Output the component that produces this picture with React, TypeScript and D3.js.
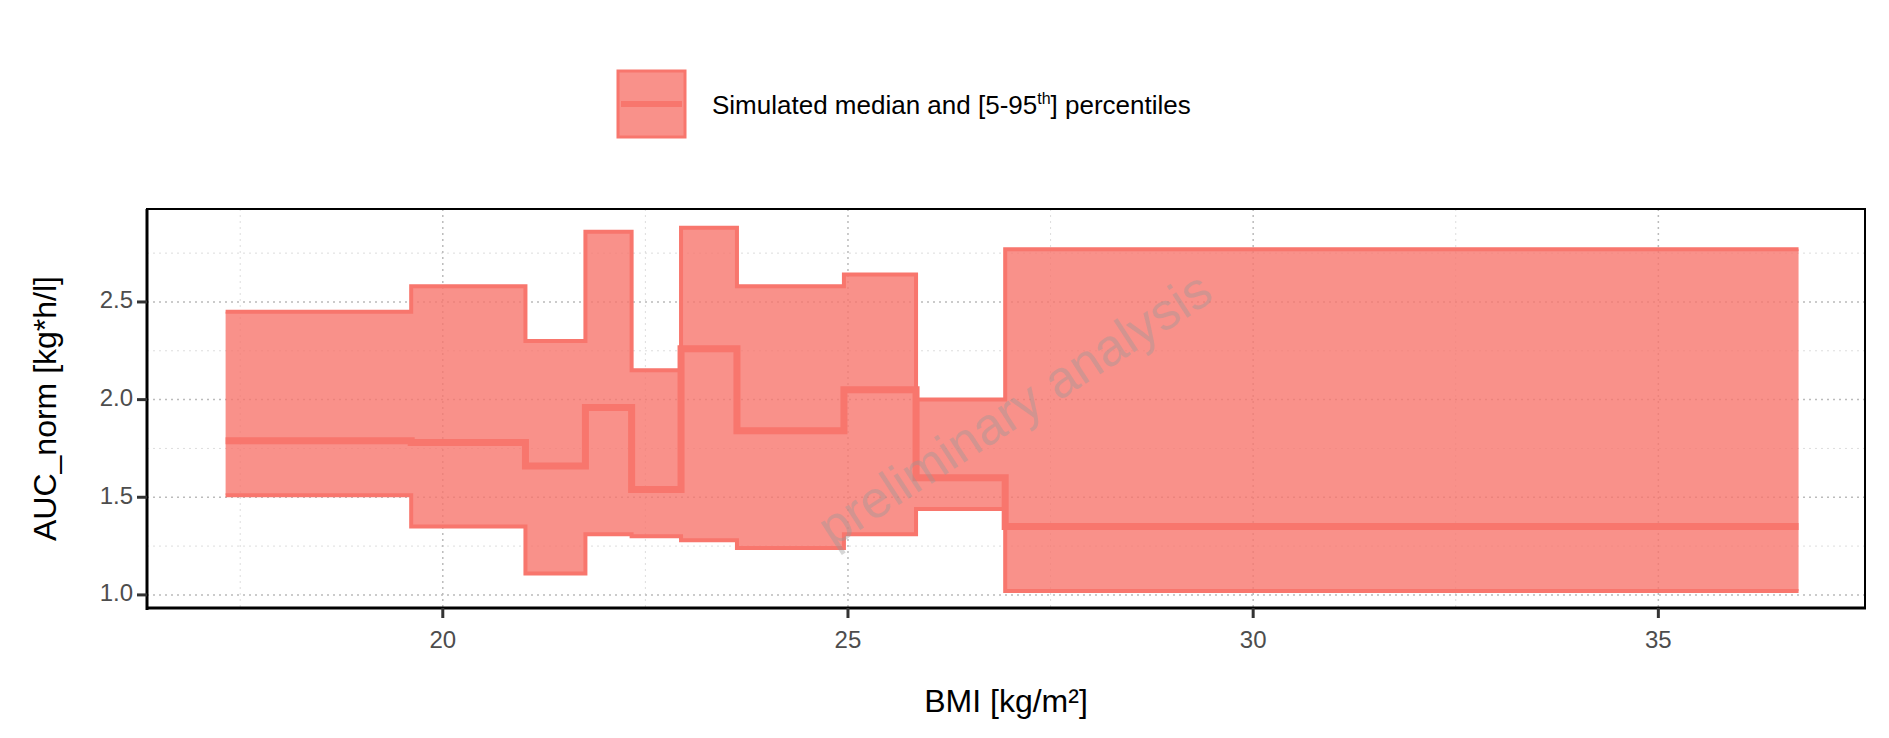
import React from "react";
import * as d3 from "d3";

const xBreaks = [17.32, 19.61, 21.02, 21.76, 22.33, 22.94, 23.63, 24.95, 25.84, 26.94, 36.73];
const medianVals = [1.79, 1.78, 1.66, 1.96, 1.54, 2.26, 1.84, 2.05, 1.60, 1.35];
const upperVals = [2.45, 2.58, 2.30, 2.86, 2.15, 2.88, 2.58, 2.64, 2.00, 2.77];
const lowerVals = [1.51, 1.35, 1.11, 1.31, 1.30, 1.28, 1.24, 1.31, 1.44, 1.02];
const xTicks = [20, 25, 30, 35];
const xMinor = [17.5, 22.5, 27.5, 32.5];
const yTicks = [1.0, 1.5, 2.0, 2.5];
const yMinor = [1.25, 1.75, 2.25, 2.75];

const W = 1889, H = 738;
const L = 147, R = 1865, T = 209, B = 608;
const COL = "#F8766D";

export default function App() {
  const x = d3.scaleLinear().domain([16.35, 37.55]).range([L, R]);
  const y = d3.scaleLinear().domain([0.933, 2.976]).range([B, T]);
  const pts = (vals: number[]) => {
    const p: [number, number][] = [];
    vals.forEach((v, i) => { p.push([xBreaks[i], v]); p.push([xBreaks[i + 1], v]); });
    return p;
  };
  const line = d3.line<[number, number]>().x(d => x(d[0])).y(d => y(d[1]));
  const up = pts(upperVals), lo = pts(lowerVals);
  const area = d3.area<[number, number]>().x(d => x(d[0])).y0((d, i) => y(lo[i][1])).y1(d => y(d[1]));
  const font = "Arial, 'Liberation Sans', sans-serif";
  return (
    <svg width={W} height={H} style={{ position: "absolute", left: 0, top: 0 }} fontFamily={font}>
      <rect width={W} height={H} fill="white" />
      {xMinor.map(v => <line key={"xm" + v} x1={x(v)} x2={x(v)} y1={T} y2={B} stroke="#ddd" strokeDasharray="2,4" strokeWidth={1} />)}
      {yMinor.map(v => <line key={"ym" + v} y1={y(v)} y2={y(v)} x1={L} x2={R} stroke="#ddd" strokeDasharray="2,4" strokeWidth={1} />)}
      {xTicks.map(v => <line key={"x" + v} x1={x(v)} x2={x(v)} y1={T} y2={B} stroke="#bbb" strokeDasharray="2,4" strokeWidth={1.5} />)}
      {yTicks.map(v => <line key={"y" + v} y1={y(v)} y2={y(v)} x1={L} x2={R} stroke="#bbb" strokeDasharray="2,4" strokeWidth={1.5} />)}
      <path d={area(up) || ""} fill={COL} fillOpacity={0.8} />
      <path d={line(up) || ""} fill="none" stroke={COL} strokeWidth={4} />
      <path d={line(lo) || ""} fill="none" stroke={COL} strokeWidth={4} />
      <path d={line(pts(medianVals)) || ""} fill="none" stroke={COL} strokeWidth={7} />
      <text transform={`translate(1017,412) rotate(-33)`} textAnchor="middle" dominantBaseline="middle" fontSize={52} fill="#999" fillOpacity={0.4}>preliminary analysis</text>
      <rect x={L} y={T} width={R - L} height={B - T} fill="none" stroke="black" strokeWidth={2} />
      <line x1={L} x2={L} y1={T} y2={B + 2} stroke="black" strokeWidth={3} />
      <line x1={L} x2={R + 1} y1={B} y2={B} stroke="black" strokeWidth={3} />
      {xTicks.map(v => (
        <g key={"xt" + v}>
          <line x1={x(v)} x2={x(v)} y1={B} y2={B + 10} stroke="#333" strokeWidth={3} />
          <text x={x(v)} y={B + 40} textAnchor="middle" fontSize={24} fill="#4d4d4d">{v}</text>
        </g>
      ))}
      {yTicks.map(v => (
        <g key={"yt" + v}>
          <line x1={L - 10} x2={L} y1={y(v)} y2={y(v)} stroke="#333" strokeWidth={3} />
          <text x={L - 14} y={y(v)} textAnchor="end" dominantBaseline="middle" fontSize={24} fill="#4d4d4d">{v.toFixed(1)}</text>
        </g>
      ))}
      <text x={(L + R) / 2} y={712} textAnchor="middle" fontSize={32} fill="black">BMI [kg/m²]</text>
      <text transform={`translate(48,${(T + B) / 2}) rotate(-90)`} textAnchor="middle" dominantBaseline="middle" fontSize={32} fill="black">AUC_norm [kg*h/l]</text>
      <rect x={618} y={71} width={67} height={66} fill={COL} fillOpacity={0.8} stroke={COL} strokeWidth={3} />
      <line x1={621} x2={682} y1={104} y2={104} stroke={COL} strokeWidth={6} />
      <text x={712} y={114} fontSize={26} fill="black">Simulated median and [5-95<tspan fontSize={16} dy={-10}>th</tspan><tspan dy={10}>] percentiles</tspan></text>
    </svg>
  );
}
